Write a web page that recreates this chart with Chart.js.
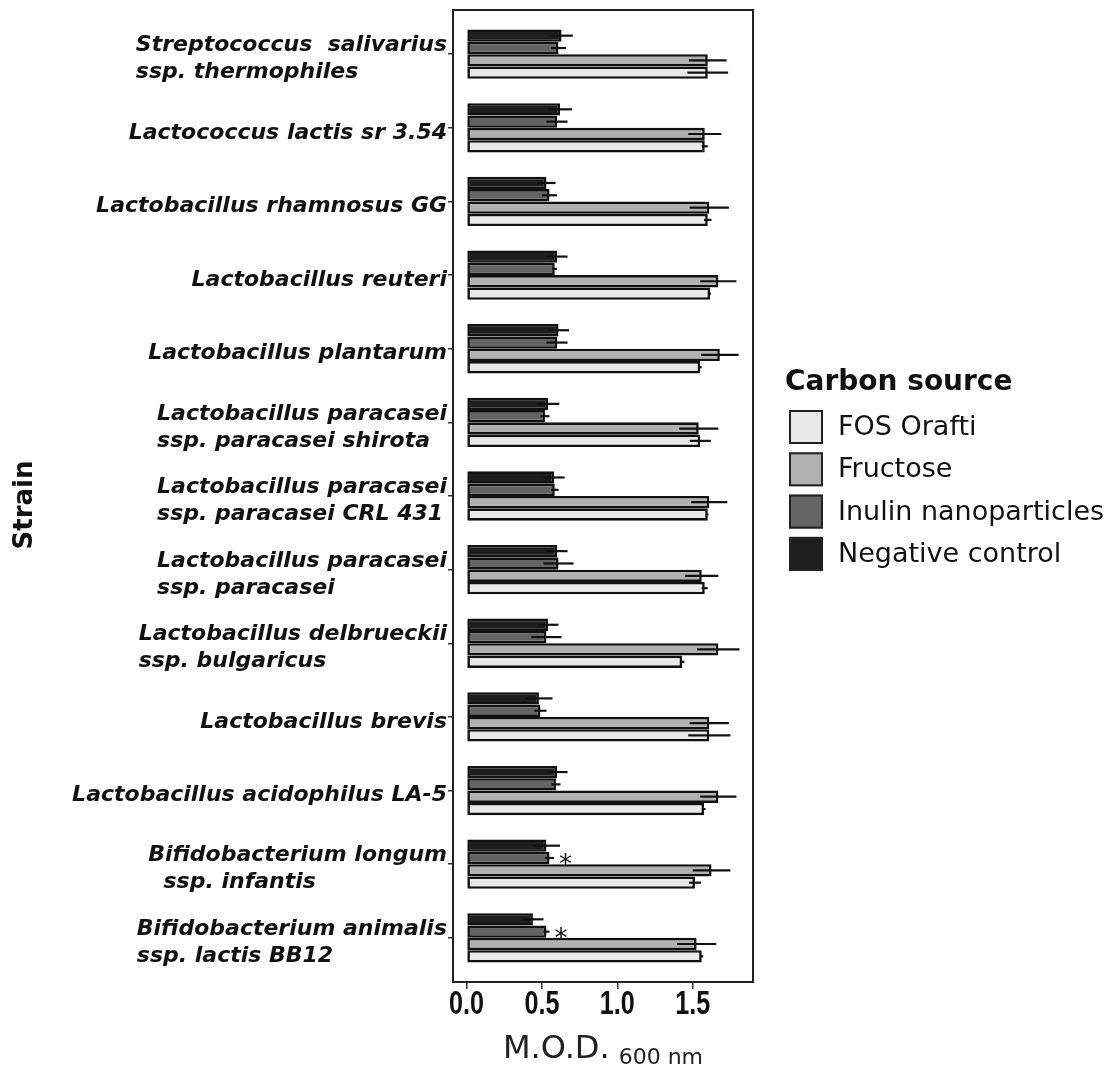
<!DOCTYPE html>
<html>
<head>
<meta charset="utf-8">
<script src="https://cdn.jsdelivr.net/npm/chart.js@4.4.0/dist/chart.umd.min.js"></script>
<style>
  html, body { margin: 0; padding: 0; background: #ffffff; }
  #wrap { width: 1118px; height: 1069px; }
</style>
</head>
<body>
<div id="wrap"><canvas id="c" width="1118" height="1069"></canvas></div>
<script>
// ---------- data ----------
const categories = [
  ["Streptococcus  salivarius", "ssp. thermophiles"],
  ["Lactococcus lactis sr 3.54"],
  ["Lactobacillus rhamnosus GG"],
  ["Lactobacillus reuteri"],
  ["Lactobacillus plantarum"],
  ["Lactobacillus paracasei", "ssp. paracasei shirota"],
  ["Lactobacillus paracasei", "ssp. paracasei CRL 431"],
  ["Lactobacillus paracasei", "ssp. paracasei"],
  ["Lactobacillus delbrueckii", "ssp. bulgaricus"],
  ["Lactobacillus brevis"],
  ["Lactobacillus acidophilus LA-5"],
  ["Bifidobacterium longum", "  ssp. infantis"],
  ["Bifidobacterium animalis", "ssp. lactis BB12"]
];

const seriesNames = ["FOS Orafti", "Fructose", "Inulin nanoparticles", "Negative control"];

const fos         = [1.60, 1.58, 1.60, 1.615, 1.55, 1.55, 1.60, 1.58, 1.43, 1.61, 1.575, 1.515, 1.56];
const fosErr      = [0.135, 0.02, 0.025, 0.005, 0.01, 0.07, 0.005, 0.02, 0.015, 0.14, 0.01, 0.04, 0.01];
const fructose    = [1.60, 1.58, 1.61, 1.67, 1.68, 1.54, 1.61, 1.56, 1.67, 1.61, 1.67, 1.625, 1.526];
const fructoseErr = [0.125, 0.11, 0.13, 0.12, 0.125, 0.13, 0.12, 0.11, 0.14, 0.13, 0.12, 0.125, 0.13];
const inulin      = [0.61, 0.60, 0.55, 0.585, 0.60, 0.52, 0.585, 0.61, 0.53, 0.49, 0.593, 0.55, 0.53];
const inulinErr   = [0.05, 0.07, 0.05, 0.015, 0.07, 0.03, 0.025, 0.10, 0.10, 0.04, 0.03, 0.03, 0.02];
const negative    = [0.63, 0.62, 0.53, 0.60, 0.61, 0.54, 0.58, 0.60, 0.54, 0.48, 0.60, 0.53, 0.44];
const negativeErr = [0.075, 0.08, 0.06, 0.07, 0.07, 0.075, 0.07, 0.07, 0.07, 0.09, 0.07, 0.09, 0.07];
const inulinMarks = ["", "", "", "", "", "", "", "", "", "", "", "*", "*"];

const xTicks = [0, 0.5, 1.0, 1.5];
const xTitle = "M.O.D.";
const xTitleSub = "600 nm";
const yTitle = "Strain";
const legendTitle = "Carbon source";

// ---------- styling ----------
const colors = {
  "FOS Orafti": "#e9e9e9",
  "Fructose": "#b1b1b1",
  "Inulin nanoparticles": "#646464",
  "Negative control": "#1e1e1e"
};
const FRAME = { left: 453, right: 753, top: 10, bottom: 982 };
const W = 1118, H = 1069;

function pts(vals) { return vals.map((v, i) => ({ x: v, y: i })); }

function ds(name, vals, errs, marks) {
  return {
    label: name,
    data: pts(vals),
    errors: errs,
    marks: marks || null,
    backgroundColor: colors[name],
    borderColor: "#111111",
    borderWidth: 2.6,
    borderSkipped: false,
    categoryPercentage: 0.67,
    barPercentage: 1.0
  };
}

// dataset order top -> bottom within each group
const datasets = [
  ds("Negative control", negative, negativeErr),
  ds("Inulin nanoparticles", inulin, inulinErr, inulinMarks),
  ds("Fructose", fructose, fructoseErr),
  ds("FOS Orafti", fos, fosErr)
];

const extras = {
  id: "extras",
  afterDatasetsDraw(chart) {
    const { ctx, chartArea: a, scales } = chart;
    const x = scales.x;
    ctx.save();
    chart.data.datasets.forEach((d, di) => {
      const meta = chart.getDatasetMeta(di);
      meta.data.forEach((bar, i) => {
        const v = d.data[i].x, e = d.errors[i];
        ctx.strokeStyle = "#111";
        ctx.lineWidth = 2.2;
        ctx.beginPath();
        ctx.moveTo(x.getPixelForValue(v - e), bar.y);
        ctx.lineTo(x.getPixelForValue(v + e), bar.y);
        ctx.stroke();
        if (d.marks && d.marks[i]) {
          ctx.fillStyle = "#111";
          ctx.font = '26px "DejaVu Sans"';
          ctx.textAlign = "left";
          ctx.textBaseline = "alphabetic";
          ctx.fillText(d.marks[i], x.getPixelForValue(v + e) + 5, bar.y + 15);
        }
      });
    });
    // frame
    ctx.strokeStyle = "#222";
    ctx.lineWidth = 2;
    ctx.strokeRect(a.left, a.top, a.right - a.left, a.bottom - a.top);
    ctx.restore();
  },
  afterDraw(chart) {
    const { ctx, chartArea: a, scales } = chart;
    const y = scales.y, x = scales.x;
    ctx.save();
    // x tick labels (condensed bold)
    ctx.fillStyle = "#111";
    ctx.font = 'bold 34px "Liberation Sans"';
    ctx.textAlign = "center";
    ctx.textBaseline = "middle";
    xTicks.forEach(v => {
      const px = x.getPixelForValue(v);
      ctx.save();
      ctx.translate(px, a.bottom + 23);
      ctx.scale(0.74, 1);
      ctx.fillText(v.toFixed(1), 0, 0);
      ctx.restore();
    });
    // category labels (lines left-aligned, block right-aligned to axis)
    ctx.fillStyle = "#111";
    ctx.font = 'italic bold 22px "DejaVu Sans"';
    ctx.textBaseline = "middle";
    ctx.textAlign = "left";
    const lh = 27;
    categories.forEach((lines, i) => {
      const py = y.getPixelForValue(i) + 5;
      const bw = Math.max(...lines.map(l => ctx.measureText(l).width));
      const right = a.left - 6;
      const left = right - bw;
      const n = lines.length;
      lines.forEach((l, k) => {
        ctx.fillText(l, left, py + (k - (n - 1) / 2) * lh);
      });
    });
    // y title
    const cy = (a.top + a.bottom) / 2;
    ctx.save();
    ctx.translate(25, cy + 9);
    ctx.rotate(-Math.PI / 2);
    ctx.font = 'bold 26px "DejaVu Sans"';
    ctx.textAlign = "center";
    ctx.textBaseline = "middle";
    ctx.fillText(yTitle, 0, 0);
    ctx.restore();
    // x title with subscript
    ctx.font = '32px "DejaVu Sans"';
    const w1 = ctx.measureText(xTitle).width;
    ctx.font = '22px "DejaVu Sans"';
    const w2 = ctx.measureText(xTitleSub).width;
    const gap = 9;
    const cx = (a.left + a.right) / 2;
    let sx = cx - (w1 + gap + w2) / 2;
    ctx.textAlign = "left";
    ctx.textBaseline = "alphabetic";
    ctx.font = '32px "DejaVu Sans"';
    ctx.fillStyle = "#222";
    ctx.fillText(xTitle, sx, 1058);
    ctx.font = '22px "DejaVu Sans"';
    ctx.fillText(xTitleSub, sx + w1 + gap, 1064);
    // legend
    const lx = a.right + 32;
    ctx.fillStyle = "#111";
    ctx.font = 'bold 28px "DejaVu Sans"';
    ctx.fillText(legendTitle, lx, cy - 106);
    const step = 42.3;
    const box = 34;
    seriesNames.forEach((name, k) => {
      const top = cy - 86 + k * step;
      const bx = a.right + 36;
      ctx.fillStyle = colors[name];
      ctx.fillRect(bx, top, box, box);
      ctx.strokeStyle = "#222";
      ctx.lineWidth = 2;
      ctx.strokeRect(bx + 1, top + 1, box - 2, box - 2);
      ctx.fillStyle = "#111";
      ctx.font = '27px "DejaVu Sans"';
      ctx.textBaseline = "middle";
      ctx.fillText(name, a.right + 85, top + box / 2 + 1);
      ctx.textBaseline = "alphabetic";
    });
    ctx.restore();
  }
};

new Chart(document.getElementById("c"), {
  type: "bar",
  data: { datasets },
  options: {
    indexAxis: "y",
    responsive: false,
    animation: false,
    devicePixelRatio: 1,
    layout: { padding: { left: 0, right: W - FRAME.right, top: FRAME.top, bottom: 0 } },
    plugins: { legend: { display: false }, tooltip: { enabled: false } },
    scales: {
      y: {
        type: "linear",
        reverse: true,
        offset: false,
        min: -0.6,
        max: categories.length - 1 + 0.6,
        afterBuildTicks: s => { s.ticks = categories.map((c, i) => ({ value: i })); },
        afterFit: s => { s.width = FRAME.left; },
        ticks: { display: false },
        grid: { offset: false, drawOnChartArea: false, drawTicks: true, tickLength: 5, color: "#333", lineWidth: 1.5 },
        border: { display: false }
      },
      x: {
        type: "linear",
        offset: false,
        min: -0.09,
        max: 1.90,
        afterBuildTicks: s => { s.ticks = xTicks.map(v => ({ value: v })); },
        afterFit: s => { s.height = H - FRAME.bottom; },
        ticks: { display: false },
        grid: { offset: false, drawOnChartArea: false, drawTicks: true, tickLength: 7, color: "#333", lineWidth: 1.5 },
        border: { display: false }
      }
    }
  },
  plugins: [extras]
});
</script>
</body>
</html>
